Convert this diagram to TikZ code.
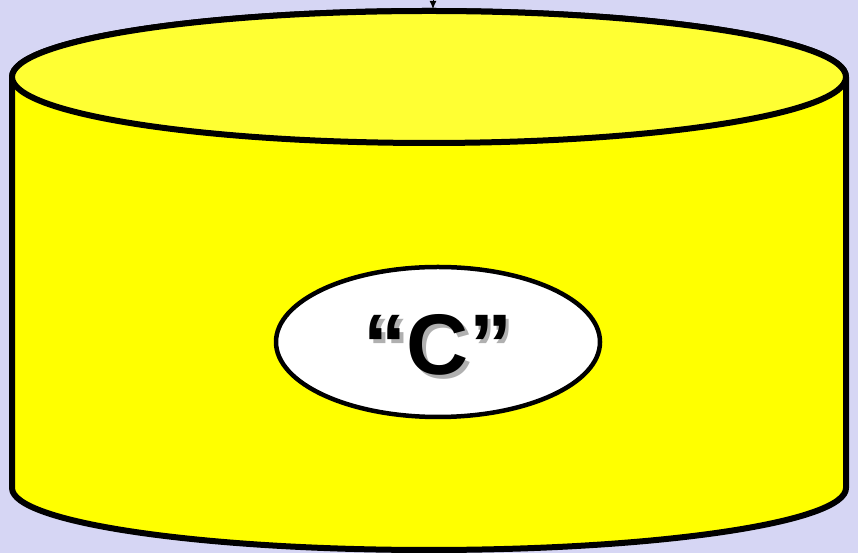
\documentclass[tikz,border=0pt]{standalone}
\usepackage{fontspec}
\usetikzlibrary{arrows.meta}
\setmainfont{Liberation Sans}
\definecolor{bgblue}{HTML}{D6D6F4}
\definecolor{bodyyellow}{HTML}{FFFF00}
\definecolor{topyellow}{HTML}{FFFF33}
\definecolor{shadowgray}{HTML}{B0B0B0}
\newcommand{\shadowtext}[1]{\makebox[0pt][l]{\hspace{3.5pt}\raisebox{-3.5pt}{\color{shadowgray}#1}}#1}

\begin{document}
\begin{tikzpicture}[x=1pt,y=1pt,line join=round]
\useasboundingbox (0,0) rectangle (858,553);
\clip (0,0) rectangle (858,553);
\fill[bgblue] (0,0) rectangle (858,553);
% cylinder body
\filldraw[fill=bodyyellow,line width=6pt] (12,476) -- (12,65)
  arc[start angle=180,end angle=360,x radius=417,y radius=62]
  -- (846,476) arc[start angle=0,end angle=180,x radius=417,y radius=66];
% cylinder top
\filldraw[fill=topyellow,line width=6pt] (429,476) ellipse[x radius=417,y radius=66];
\coordinate (dbtop) at (433,544);
\coordinate (feed) at (433,620);
\draw[line width=1pt,-{Latex[length=8pt,width=7pt]}] (feed) -- (dbtop);
% label
\filldraw[fill=white,line width=4.5pt] (438,211) ellipse[x radius=162,y radius=75];
\node (lbl) [anchor=base,inner sep=0pt,font=\bfseries\fontsize{86}{90}\selectfont]
  at (438,178) {\shadowtext{“C”}};
\end{tikzpicture}
\end{document}
